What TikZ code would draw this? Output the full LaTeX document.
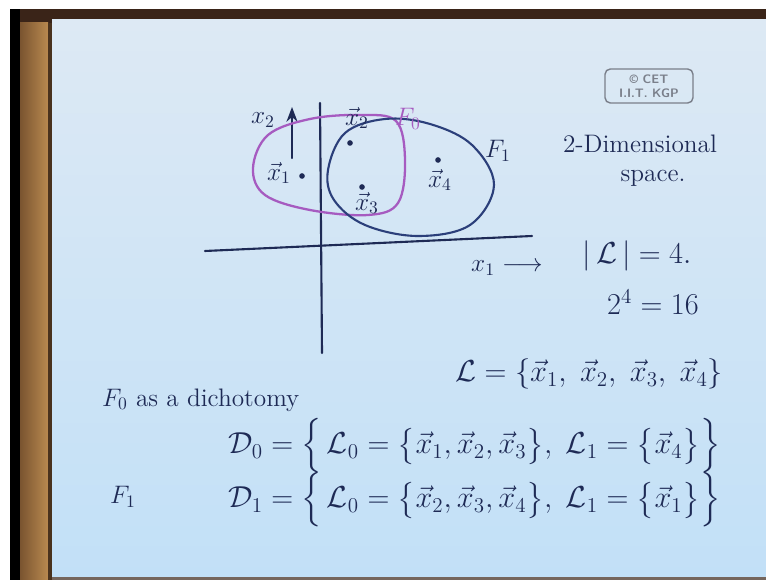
\documentclass[tikz,border=0pt]{standalone}
\usepackage{amsmath}
\usetikzlibrary{arrows.meta, positioning, calc}
\definecolor{paperhi}{HTML}{DDE9F4}
\definecolor{paperlo}{HTML}{C2E0F7}
\definecolor{ink}{HTML}{1E2A55}
\definecolor{fzero}{HTML}{A65BC0}
\definecolor{fone}{HTML}{2B3F7A}
\definecolor{woodlight}{HTML}{B8894F}
\definecolor{wooddark}{HTML}{7A5430}
\definecolor{framedark}{HTML}{3A2418}
\definecolor{stampgrey}{HTML}{7A7F8A}

\begin{document}
\begin{tikzpicture}[
    x=0.02cm, y=-0.02cm,
    >=Stealth,
    pen/.style={draw=ink, line width=1.2pt, line cap=round},
    dot/.style={circle, fill=ink, inner sep=0pt, minimum size=3.2pt},
    lbl/.style={text=ink, font=\Large, inner sep=1pt},
    note/.style={text=ink, font=\Large, inner sep=1pt},
    eq/.style={text=ink, font=\LARGE, inner sep=0pt},
    stamp/.style={draw=stampgrey, rounded corners=3pt, line width=0.8pt,
                  text=stampgrey, font=\sffamily\bfseries\scriptsize,
                  align=center, minimum width=1.76cm, minimum height=0.68cm,
                  inner sep=1pt},
]
\useasboundingbox (0,0) rectangle (766,580);

% ── Board and frame ──
\fill[white] (0,0) rectangle (766,580);
\fill[framedark] (10,9) rectangle (766,23);
\fill[black] (10,9) rectangle (20,580);
\shade[left color=wooddark, right color=woodlight] (20,23) rectangle (48,580);
\fill[wooddark!60!black] (48,23) rectangle (52,580);
\shade[top color=paperhi, bottom color=paperlo] (52,20) rectangle (766,577);
\fill[framedark!70] (52,577) rectangle (766,580);

\node[stamp] (cet) at (649,86) {\textcopyright\ CET\\I.I.T. KGP};

% ════════════════════════════════════════════════════════════
% THE PLANE: axes, the points and the two classifiers
% ════════════════════════════════════════════════════════════
\coordinate (haxl) at (205,251);
\coordinate (haxr) at (532,236);
\coordinate (vaxt) at (320,103);
\coordinate (vaxb) at (322,353);
\draw[pen] (haxl) -- (haxr);
\draw[pen] (vaxt) -- (vaxb);

\node[lbl] (x2lab) at (263,120) {$x_2$};
\coordinate (x2tail) at (292,158);
\coordinate (x2tip) at (292,107);
\draw[pen, ->] (x2tail) -- (x2tip);
\node[lbl] (x1lab) at (507,268) {$x_1 \longrightarrow$};

% ── F0 (purple) and F1 (blue) ──
\draw[fzero, line width=1.3pt] plot[smooth cycle, tension=0.6] coordinates
    {(253,168) (268,135) (310,119) (360,115) (396,121) (405,160)
     (398,203) (368,215) (310,210) (265,195)};
\draw[fone, line width=1.2pt] plot[smooth cycle, tension=0.6] coordinates
    {(328,170) (345,133) (385,119) (430,124) (472,145) (494,185)
     (470,225) (418,236) (365,225) (334,200)};

\node[lbl, text=fzero] (f0lab) at (408,119) {$F_0$};
\node[lbl] (f1lab) at (498,151) {$F_1$};

% ── the four points ──
\node[dot] (p1) at (302,176) {};
\node[dot] (p2) at (350,143) {};
\node[dot] (p3) at (362,187) {};
\node[dot] (p4) at (438,160) {};
\node[lbl] (l1) at (279,173) {$\vec{x}_1$};
\node[lbl] (l2) at (357,118) {$\vec{x}_2$};
\node[lbl] (l3) at (367,203) {$\vec{x}_3$};
\node[lbl] (l4) at (440,180) {$\vec{x}_4$};

% ════════════════════════════════════════════════════════════
% RIGHT COLUMN
% ════════════════════════════════════════════════════════════
\node[note] (dimA) at (640,144) {2-Dimensional};
\node[note] (dimB) at (653,178) {space.};
\node[eq] (card) at (637,256) {$\vert\,\mathcal{L}\,\vert = 4.$};
\node[eq] (pow) at (653,302) {$2^4 = 16$};

% ════════════════════════════════════════════════════════════
% BOTTOM: the dichotomies
% ════════════════════════════════════════════════════════════
\node[eq, anchor=west] (Lset) at (455,374)
    {$\mathcal{L} = \{\vec{x}_1,\; \vec{x}_2,\; \vec{x}_3,\; \vec{x}_4\}$};
\node[note, anchor=west] (dich) at (100,400) {$F_0$ as a dichotomy};
\node[eq, anchor=west] (D0) at (228,446)
    {$\mathcal{D}_0 = \Bigl\{\, \mathcal{L}_0 = \bigl\{\vec{x}_1, \vec{x}_2, \vec{x}_3\bigr\},\;
      \mathcal{L}_1 = \bigl\{\vec{x}_4\bigr\}\Bigr\}$};
\node[note, anchor=west] (f1row) at (108,497) {$F_1$};
\node[eq, anchor=west] (D1) at (228,500)
    {$\mathcal{D}_1 = \Bigl\{\, \mathcal{L}_0 = \bigl\{\vec{x}_2, \vec{x}_3, \vec{x}_4\bigr\},\;
      \mathcal{L}_1 = \bigl\{\vec{x}_1\bigr\}\Bigr\}$};

\end{tikzpicture}
\end{document}
